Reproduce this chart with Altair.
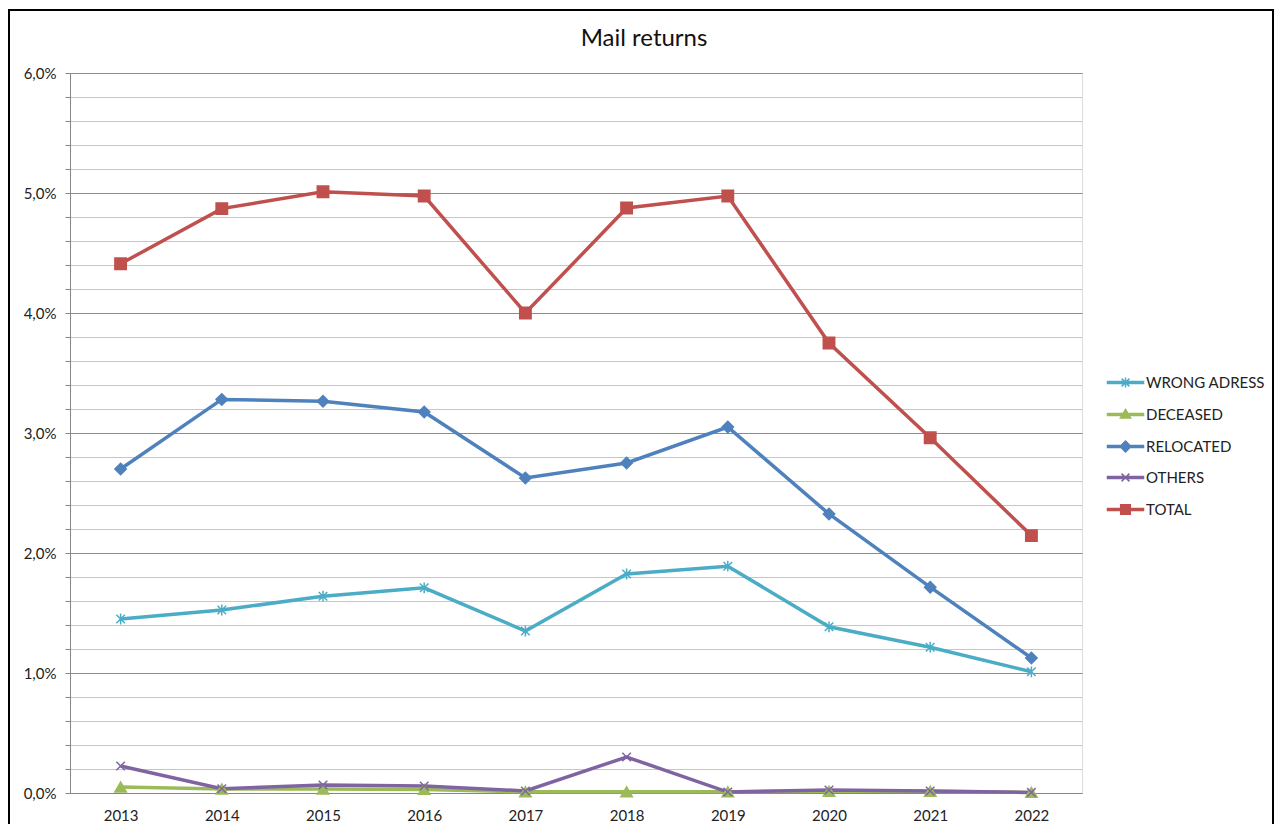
import altair as alt
import pandas as pd

years = ["2013", "2014", "2015", "2016", "2017", "2018", "2019", "2020", "2021", "2022"]
series_names = ["WRONG ADRESS", "DECEASED", "RELOCATED", "OTHERS", "TOTAL"]
series_colors = ["#4BACC6", "#9BBB59", "#4F81BD", "#8064A2", "#C0504D"]

wrong_adress = [1.45, 1.525, 1.64, 1.71, 1.35, 1.825, 1.89, 1.385, 1.215, 1.01]
deceased = [0.05, 0.033, 0.033, 0.03, 0.01, 0.01, 0.01, 0.015, 0.015, 0.005]
relocated = [2.70, 3.28, 3.265, 3.175, 2.625, 2.75, 3.05, 2.325, 1.715, 1.125]
others = [0.225, 0.035, 0.067, 0.058, 0.017, 0.30, 0.008, 0.025, 0.017, 0.005]
total = [4.41, 4.87, 5.01, 4.975, 4.0, 4.875, 4.975, 3.75, 2.96, 2.145]

y_ticks = [0.0, 0.2, 0.4, 0.6, 0.8, 1.0, 1.2, 1.4, 1.6, 1.8, 2.0, 2.2, 2.4, 2.6, 2.8,
           3.0, 3.2, 3.4, 3.6, 3.8, 4.0, 4.2, 4.4, 4.6, 4.8, 5.0, 5.2, 5.4, 5.6, 5.8, 6.0]

chart_title = "Mail returns"

# marker shapes in the plot
plot_shapes = [
    "M-0.75,-0.75L0.75,0.75M-0.75,0.75L0.75,-0.75M0,-0.95V0.95",
    "triangle-up",
    "diamond",
    "M-0.75,-0.75L0.75,0.75M-0.75,0.75L0.75,-0.75",
    "square",
]
# legend symbols: line (thin filled bar) + marker
legend_shapes = [
    "M-3,-0.17H3V0.17H-3ZM-0.65,-0.65L0.65,0.65M-0.65,0.65L0.65,-0.65M0,-0.85V0.85",
    "M-3,-0.17H3V0.17H-3ZM0,-0.85L0.85,0.6L-0.85,0.6Z",
    "M-3,-0.17H3V0.17H-3ZM0,-0.9L0.9,0L0,0.9L-0.9,0Z",
    "M-3,-0.17H3V0.17H-3ZM-0.65,-0.65L0.65,0.65M-0.65,0.65L0.65,-0.65",
    "M-3,-0.17H3V0.17H-3ZM-0.8,-0.8H0.8V0.8H-0.8Z",
]

all_values = [wrong_adress, deceased, relocated, others, total]
rows = []
for name, vals in zip(series_names, all_values):
    for yr, v in zip(years, vals):
        rows.append({"year": yr, "value": v, "series": name, "lg": name})
df = pd.DataFrame(rows)

FONT = "Lato"

def cscale():
    return alt.Scale(domain=series_names, range=series_colors)

x_enc = alt.X("year:O", sort=years, title=None,
              axis=alt.Axis(labelAngle=0, ticks=False, labelPadding=15,
                            labelFont=FONT, labelFontSize=15, labelColor="#222222",
                            domainColor="#868686", domainWidth=1, grid=False))
major_test = "abs(datum.value - round(datum.value)) < 0.01"
y_enc = alt.Y("value:Q", title=None,
              scale=alt.Scale(domain=[0, 6], nice=False, zero=True),
              axis=alt.Axis(values=y_ticks, tickCount=60, labelOverlap=False,
                            labelExpr="abs(datum.value - round(datum.value)) < 0.01 ? replace(format(datum.value, '.1f'), '.', ',') + '%' : ''",
                            labelFont=FONT, labelFontSize=15, labelColor="#222222",
                            labelPadding=9, tickSize=5, tickColor="#868686",
                            domainColor="#868686", domainWidth=1,
                            grid=True, gridWidth=1,
                            gridColor={"condition": {"test": major_test, "value": "#8c8c8c"},
                                       "value": "#c6c6c6"}))

base = alt.Chart(df)

lines = base.mark_line(strokeWidth=3.5).encode(
    x=x_enc, y=y_enc,
    color=alt.Color("series:N", scale=cscale(), legend=None),
)

points = base.mark_point(filled=True, strokeWidth=1.5, opacity=1, size=130).encode(
    x=alt.X("year:O", sort=years),
    y=alt.Y("value:Q"),
    fill=alt.Fill("series:N", scale=cscale(), legend=None),
    stroke=alt.Stroke("series:N", scale=cscale(), legend=None),
    shape=alt.Shape("series:N", scale=alt.Scale(domain=series_names, range=plot_shapes), legend=None),
)

leg = alt.Legend(title=None, orient="none", legendX=1048, legendY=302,
                 symbolSize=144, symbolStrokeWidth=1.5, symbolOpacity=1,
                 labelFont=FONT, labelFontSize=15, labelColor="#222222",
                 labelOffset=13, rowPadding=15, padding=0)

legend_layer = base.mark_point(filled=True, opacity=0).encode(
    x=alt.X("year:O", sort=years),
    y=alt.Y("value:Q"),
    fill=alt.Fill("lg:N", scale=cscale(), legend=leg),
    stroke=alt.Stroke("lg:N", scale=cscale(), legend=leg),
    shape=alt.Shape("lg:N", scale=alt.Scale(domain=series_names, range=legend_shapes), legend=leg),
)

one = alt.Chart(pd.DataFrame({"t": [chart_title]}))

frame = one.mark_rect(
    filled=False, stroke="black", strokeWidth=2
).encode(
    x=alt.value(-61), x2=alt.value(1203), y=alt.value(-63), y2=alt.value(800)
)

title_mark = one.mark_text(font=FONT, fontSize=24, color="#111111", align="center",
                           baseline="alphabetic").encode(
    x=alt.value(574), y=alt.value(-27), text="t:N"
)

chart = alt.layer(frame, title_mark, lines, points, legend_layer).resolve_scale(
    fill="independent", stroke="independent", shape="independent", color="independent"
).resolve_legend(
    fill="independent", stroke="independent", shape="independent", color="independent"
).properties(
    width=1012, height=720,
    autosize=alt.AutoSizeParams(type="none"),
    padding={"left": 62, "top": 65, "right": 192, "bottom": 31},
).configure_view(stroke=None).configure(background="white")

chart.save("out.html", embed_options={"renderer": "svg", "actions": False})
